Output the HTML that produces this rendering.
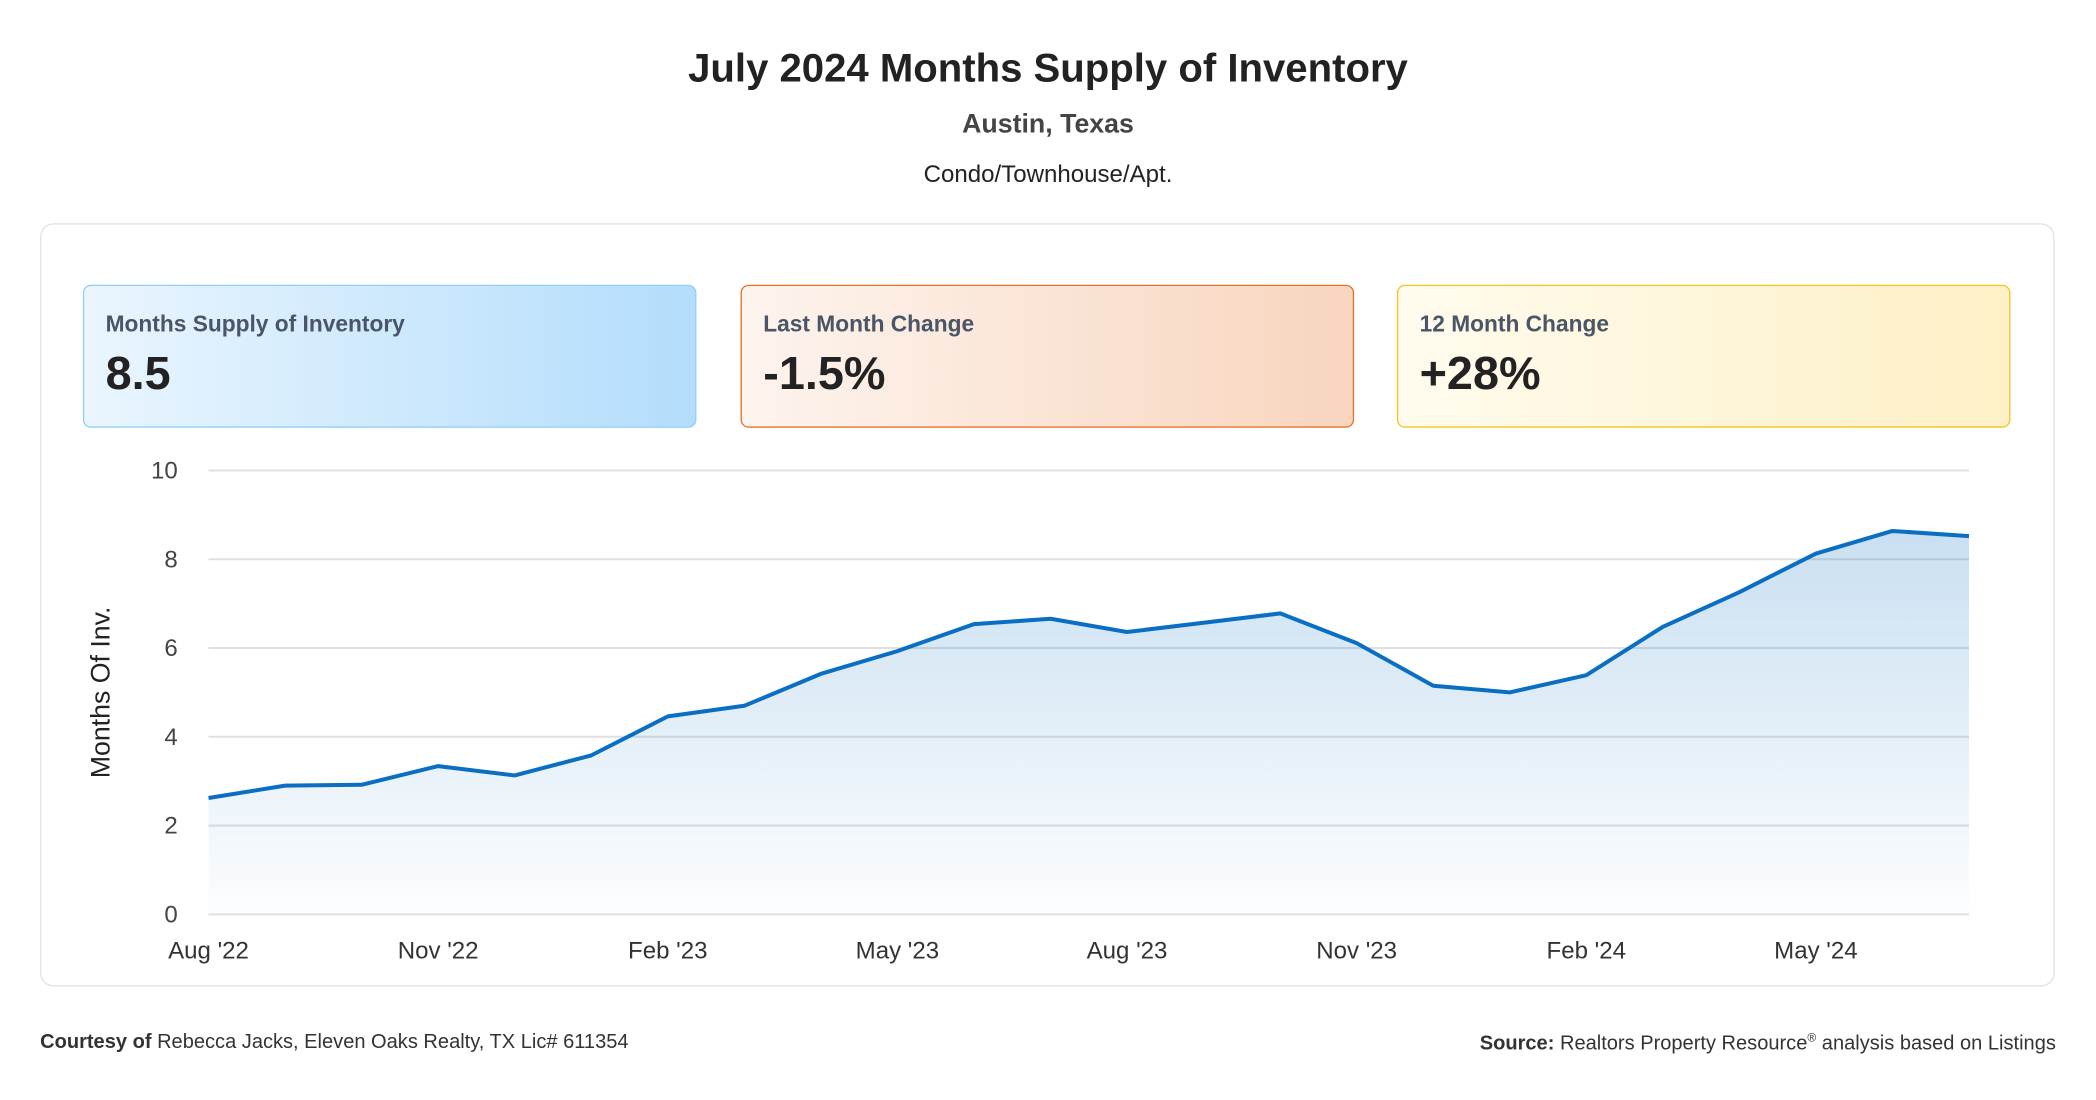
<!DOCTYPE html>
<html><head><meta charset="utf-8"><style>
html,body{margin:0;padding:0;background:#fff;width:2096px;height:1100px;overflow:hidden}
#wrap{position:absolute;left:0;top:0;width:1568px;height:823px;transform:scale(1.33673);transform-origin:0 0;font-family:"Liberation Sans",sans-serif;color:#222}
.t{position:absolute;left:0;width:1568px;text-align:center}
.card{position:absolute;top:213px;width:459px;height:107px;border-radius:6px;box-sizing:border-box}
.lbl{position:absolute;left:16px;top:19px;font-size:17px;font-weight:bold;color:#4a5568}
.val{position:absolute;left:16px;top:46px;font-size:35px;font-weight:bold;color:#222}
</style></head><body>
<div id="wrap">
<div class="t" style="top:35px;font-size:30px;font-weight:bold;">July 2024 Months Supply of Inventory</div>
<div class="t" style="top:82px;font-size:20px;font-weight:bold;color:#444">Austin, Texas</div>
<div class="t" style="top:120px;font-size:18px;color:#222">Condo/Townhouse/Apt.</div>
<div style="position:absolute;left:30px;top:167px;width:1507px;height:571px;border:1.5px solid #dde3ea;border-radius:10px;box-sizing:border-box"></div>
<div class="card" style="left:62px;background:linear-gradient(90deg,#eaf5fe,#b3ddfb);border:1.5px solid #90cdf9">
 <div class="lbl">Months Supply of Inventory</div>
 <div class="val">8.5</div></div>
<div class="card" style="left:554px;background:linear-gradient(90deg,#fdf4ee,#f8d5be);border:1.5px solid #e8702a">
 <div class="lbl">Last Month Change</div>
 <div class="val">-1.5%</div></div>
<div class="card" style="left:1045px;background:linear-gradient(90deg,#fffbee,#fef0c6);border:1.5px solid #f5c31b">
 <div class="lbl">12 Month Change</div>
 <div class="val">+28%</div></div>
<svg id="chart" width="1568" height="823" style="position:absolute;left:0;top:0">
<defs><linearGradient id="fg" x1="0" y1="0" x2="0" y2="1"><stop offset="0" stop-color="#0a6fc2" stop-opacity="0.22"/><stop offset="1" stop-color="#0a6fc2" stop-opacity="0.01"/></linearGradient></defs>
<text transform="translate(82,518) rotate(-90)" text-anchor="middle" font-size="20" font-family="Liberation Sans, sans-serif" fill="#222">Months Of Inv.</text>
</svg>
<div style="position:absolute;left:30px;top:771px;font-size:15px;color:#333"><b>Courtesy of</b> Rebecca Jacks, Eleven Oaks Realty, TX Lic# 611354</div>
<div style="position:absolute;right:30px;top:771px;font-size:15px;color:#333"><b>Source:</b> Realtors Property Resource<sup style="font-size:9px">®</sup> analysis based on Listings</div>
</div>
<script>
const months = ["Aug '22","Sep '22","Oct '22","Nov '22","Dec '22","Jan '23","Feb '23","Mar '23","Apr '23","May '23","Jun '23","Jul '23","Aug '23","Sep '23","Oct '23","Nov '23","Dec '23","Jan '24","Feb '24","Mar '24","Apr '24","May '24","Jun '24","Jul '24"];
const values = [2.62,2.9,2.92,3.34,3.13,3.58,4.46,4.7,5.42,5.93,6.54,6.66,6.36,6.57,6.78,6.11,5.15,5.0,5.39,6.48,7.26,8.13,8.64,8.52];
const yTicks = [0,2,4,6,8,10];
const xTickIdx = [0,3,6,9,12,15,18,21];
const svg = document.getElementById('chart');
const NS = 'http://www.w3.org/2000/svg';
const x0=156,x1=1473,yTop=352,yBot=684,yMax=10;
function xs(i){return x0+(x1-x0)*i/(months.length-1);}
function ys(v){return yBot-(yBot-yTop)*v/yMax;}
function mk(t,a){const e=document.createElementNS(NS,t);for(const k in a)e.setAttribute(k,a[k]);svg.appendChild(e);return e;}
yTicks.forEach(v=>{
  const l=mk('line',{x1:x0,x2:x1,y1:ys(v),y2:ys(v),stroke:'#e0e0e0','stroke-width':1.5});
  
  
  const t=mk('text',{x:133,y:ys(v)+6,'text-anchor':'end','font-size':18,'font-family':'Liberation Sans, sans-serif',fill:'#444'});
  t.textContent=v;
  
  
});
xTickIdx.forEach(i=>{
  const t=mk('text',{x:xs(i),y:717,'text-anchor':'middle','font-size':18,'font-family':'Liberation Sans, sans-serif',fill:'#333'});
  t.textContent=months[i];
  
  
});
let pts=values.map((v,i)=>xs(i).toFixed(1)+','+ys(v).toFixed(1));
const area=mk('path',{d:'M'+xs(0)+','+ys(0)+' L'+pts.join(' L')+' L'+xs(values.length-1)+','+ys(0)+' Z',fill:'url(#fg)'});


const line=mk('polyline',{points:pts.join(' '),fill:'none',stroke:'#0a6fc2','stroke-width':3,'stroke-linejoin':'round'});


</script>
</body></html>
